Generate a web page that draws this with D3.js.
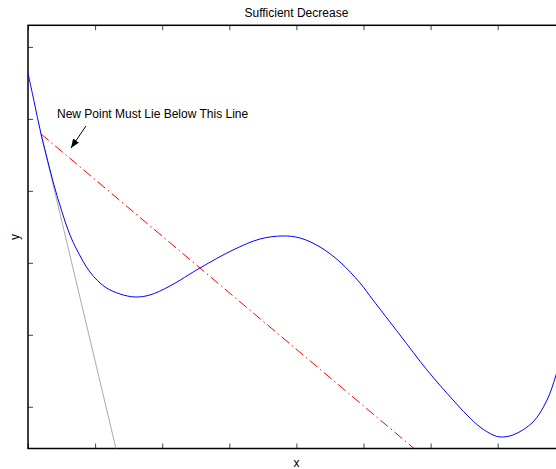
<!DOCTYPE html>
<meta charset="utf-8">
<head>
    <script type="text/javascript" src="https://d3js.org/d3.v7.min.js"></script>
    <style>
        body { margin: 0; background: #fff; }
        text { font-family: "Liberation Sans", Arial, sans-serif; font-size: 12px; fill: #000; }
    </style>
    <title>Sufficient Decrease</title>
</head>
<body>
<script type="text/javascript">

    // curve f(x)
    var curveX = [0, 0.089, 0.194, 0.298, 0.387, 0.507, 0.626, 0.730, 0.924, 1.148, 1.371, 1.595, 1.818,
                  2.116, 2.563, 3.055, 3.458, 3.800, 4.054, 4.352, 4.650, 4.948, 5.142, 5.544, 5.946,
                  6.334, 6.543, 6.736, 6.930, 7.034, 7.228, 7.526, 7.735, 7.869, 8.0];
    var curveY = [4.637, 4.248, 3.790, 3.401, 3.081, 2.706, 2.386, 2.178, 1.872, 1.664, 1.567, 1.525, 1.553,
                  1.678, 1.928, 2.178, 2.331, 2.373, 2.345, 2.220, 2.011, 1.720, 1.483, 0.997, 0.511,
                  0.094, -0.115, -0.281, -0.392, -0.420, -0.392, -0.212, 0.094, 0.441, 0.900];

    // tangent at the current point and the sufficient decrease line
    var tangentLine = [[0.194, 3.790], [1.311, -0.58]];
    var decreaseLine = [[0.194, 3.790], [5.753, -0.58]];

    var xTicks = [0, 1, 2, 3, 4, 5, 6, 7, 8];
    var yTicks = [0, 1, 2, 3, 4, 5];

    var titleText = "Sufficient Decrease";
    var noteText = "New Point Must Lie Below This Line";
    var notePos = [0.432, 4.012];
    var arrowFrom = [0.864, 3.901];
    var arrowTo = [0.641, 3.595];

    var w = 556, h = 469;
    var padL = 28, padT = 25.3, padB = 448.5, padR = 564.8;

    var svg = d3.select("body").append("svg")
        .attr("width", w)
        .attr("height", h);

    var x = d3.scaleLinear().domain([0, 8]).range([padL, padR]);
    var y = d3.scaleLinear().domain([-0.58, 5.3]).range([padB, padT]);

    var defs = svg.append("defs");
    defs.append("clipPath").attr("id", "clip")
        .append("rect")
        .attr("x", padL).attr("y", padT)
        .attr("width", padR - padL).attr("height", padB - padT);

    // ticks, mirrored top/bottom like gnuplot
    function tickStyle(g) {
        g.select(".domain").remove();
        g.selectAll(".tick line").attr("stroke", "#444").attr("stroke-width", 1);
        g.selectAll(".tick text").remove();
    }
    svg.append("g").attr("transform", "translate(0," + padB + ")")
        .call(d3.axisBottom(x).tickValues(xTicks).tickSize(-5).tickFormat(""))
        .call(tickStyle);
    svg.append("g").attr("transform", "translate(0," + padT + ")")
        .call(d3.axisTop(x).tickValues(xTicks).tickSize(-5).tickFormat(""))
        .call(tickStyle);
    svg.append("g").attr("transform", "translate(" + padL + ",0)")
        .call(d3.axisLeft(y).tickValues(yTicks).tickSize(-5).tickFormat(""))
        .call(tickStyle);

    // border
    svg.append("rect")
        .attr("x", padL).attr("y", padT)
        .attr("width", padR - padL).attr("height", padB - padT)
        .attr("fill", "none")
        .attr("stroke", "#000")
        .attr("stroke-width", 1.5);

    var plot = svg.append("g").attr("clip-path", "url(#clip)");

    var line = d3.line().x(function(d) { return x(d[0]); }).y(function(d) { return y(d[1]); });

    plot.append("path")
        .attr("d", line(tangentLine))
        .attr("fill", "none")
        .attr("stroke", "#aaaaaa")
        .attr("stroke-width", 1);

    plot.append("path")
        .attr("d", line(decreaseLine))
        .attr("fill", "none")
        .attr("stroke", "#ff0000")
        .attr("stroke-width", 1)
        .attr("stroke-dasharray", "10,3.5,1.5,3.5");

    var curve = curveX.map(function(v, i) { return [v, curveY[i]]; });
    plot.append("path")
        .attr("d", d3.line().x(function(d) { return x(d[0]); }).y(function(d) { return y(d[1]); })
                    .curve(d3.curveCatmullRom)(curve))
        .attr("fill", "none")
        .attr("stroke", "#0000ff")
        .attr("stroke-width", 1);

    // annotation
    defs.append("marker")
        .attr("id", "head")
        .attr("viewBox", "0 0 10 10")
        .attr("refX", 10).attr("refY", 5)
        .attr("markerWidth", 9).attr("markerHeight", 9)
        .attr("markerUnits", "userSpaceOnUse")
        .attr("orient", "auto")
        .append("path").attr("d", "M0,1 L10,5 L0,9 Z").attr("fill", "#000");

    svg.append("line")
        .attr("x1", x(arrowFrom[0])).attr("y1", y(arrowFrom[1]))
        .attr("x2", x(arrowTo[0])).attr("y2", y(arrowTo[1]))
        .attr("stroke", "#000")
        .attr("stroke-width", 1)
        .attr("marker-end", "url(#head)");

    svg.append("text")
        .attr("x", x(notePos[0])).attr("y", y(notePos[1]))
        .text(noteText);

    svg.append("text")
        .attr("x", (padL + padR) / 2).attr("y", 17)
        .attr("text-anchor", "middle")
        .text(titleText);

    svg.append("text")
        .attr("x", (padL + padR) / 2).attr("y", 467)
        .attr("text-anchor", "middle")
        .text("x");

    svg.append("text")
        .attr("transform", "translate(19," + (padT + padB) / 2 + ") rotate(-90)")
        .attr("text-anchor", "middle")
        .text("y");

</script>
</body>
